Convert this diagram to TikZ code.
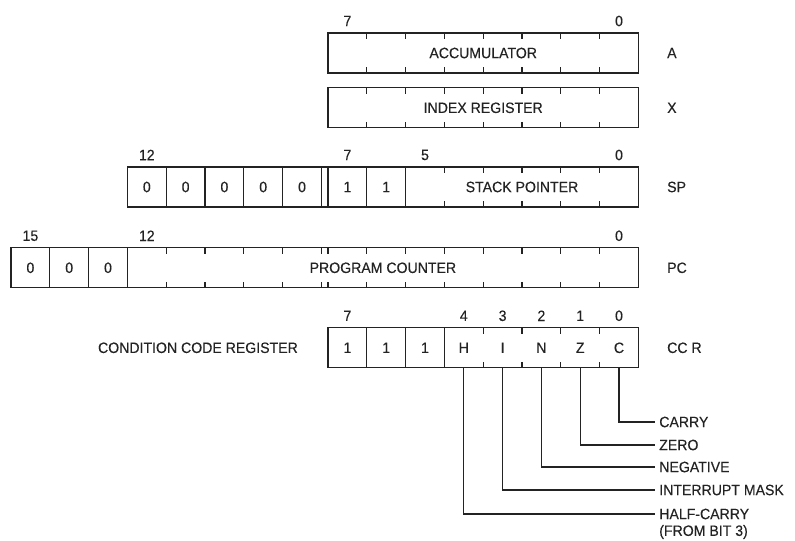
\documentclass[tikz,border=0pt]{standalone}
\usepackage{fontspec}
\setmainfont{Liberation Sans}[FakeStretch=0.94, FakeBold=0.3]
\usetikzlibrary{positioning}
\definecolor{linegray}{RGB}{35,35,35}
\definecolor{textgray}{RGB}{35,35,35}

\begin{document}
\begin{tikzpicture}[x=38.8pt, y=40pt,
    every node/.style={font=\fontsize{15}{18}\selectfont, text=textgray},
    reg/.style={draw=linegray, line width=1.2pt},
    bitnum/.style={inner sep=0pt},
    regname/.style={anchor=west, inner sep=0pt},
    cell/.style={minimum width=38.8pt, minimum height=40pt, inner sep=0pt},
    flag/.style={anchor=west, inner xsep=4pt, inner ysep=0pt}]
  \useasboundingbox (-8.454,0) rectangle (12.036,13.525);

  % Accumulator
  \draw[reg] (0,11.7) rectangle (8,12.7);
  \foreach \x in {1,...,7} {
    \draw[reg] (\x,11.7) -- ++(0,0.15);
    \draw[reg] (\x,12.7) -- ++(0,-0.15);
  }
  \node (acc) at (4,12.2) {ACCUMULATOR};
  \node[bitnum] (acc7) at (0.5,13.0) {7};
  \node[bitnum] (acc0) at (7.5,13.0) {0};
  \node[regname] (nameA) at (8.737,12.2) {A};

  % Index register
  \draw[reg] (0,10.33) rectangle (8,11.33);
  \foreach \x in {1,...,7} {
    \draw[reg] (\x,10.33) -- ++(0,0.15);
    \draw[reg] (\x,11.33) -- ++(0,-0.15);
  }
  \node (ix) at (4,10.83) {INDEX REGISTER};
  \node[regname] (nameX) at (8.737,10.83) {X};

  % Stack pointer
  \draw[reg] (-5.17,8.35) rectangle (8,9.35);
  \foreach \x in {-4.17,-3.17,-2.17,-1.17,-0.17,0,1,2}
    \draw[reg] (\x,8.35) -- (\x,9.35);
  \foreach \x in {3,...,7} {
    \draw[reg] (\x,8.35) -- ++(0,0.15);
    \draw[reg] (\x,9.35) -- ++(0,-0.15);
  }
  \foreach \i in {1,...,5}
    \node (spz\i) at (-5.67+\i,8.85) {0};
  \node (sp7) at (0.5,8.85) {1};
  \node (sp6) at (1.5,8.85) {1};
  \node (sptext) at (5,8.85) {STACK POINTER};
  \foreach \x/\l in {-4.67/12, 0.5/7, 2.5/5, 7.5/0}
    \node[bitnum] (spbit\l) at (\x,9.65) {\l};
  \node[regname] (nameSP) at (8.737,8.85) {SP};

  % Program counter
  \draw[reg] (-8.17,6.33) rectangle (8,7.33);
  \foreach \x in {-7.17,-6.17,-5.17}
    \draw[reg] (\x,6.33) -- (\x,7.33);
  \foreach \x in {-4.17,-3.17,-2.17,-1.17,-0.17,0,1,2,3,4,5,6,7} {
    \draw[reg] (\x,6.33) -- ++(0,0.15);
    \draw[reg] (\x,7.33) -- ++(0,-0.15);
  }
  \foreach \i in {1,2,3}
    \node (pcz\i) at (-8.67+\i,6.83) {0};
  \node (pctext) at (1.415,6.83) {PROGRAM COUNTER};
  \foreach \x/\l in {-7.67/15, -4.67/12, 7.5/0}
    \node[bitnum] (pcbit\l) at (\x,7.63) {\l};
  \node[regname] (namePC) at (8.737,6.83) {PC};

  % Condition code register
  \draw[reg] (0,4.33) rectangle (8,5.33);
  \foreach \x in {1,2,3}
    \draw[reg] (\x,4.33) -- (\x,5.33);
  \foreach \x in {4,...,7} {
    \draw[reg] (\x,4.33) -- ++(0,0.15);
    \draw[reg] (\x,5.33) -- ++(0,-0.15);
  }
  \foreach \i/\t in {0/1, 1/1, 2/1, 3/H, 4/I, 5/N, 6/Z, 7/C}
    \node[cell] (c\i) at (\i+0.5,4.83) {\t};
  \foreach \x/\l in {0.5/7, 3.5/4, 4.5/3, 5.5/2, 6.5/1, 7.5/0}
    \node[bitnum] (ccbit\l) at (\x,5.63) {\l};
  \node[anchor=east, inner sep=0pt] (ccrtext) at (-0.773,4.83) {CONDITION CODE REGISTER};
  \node[regname] (nameCCR) at (8.737,4.83) {CC R};

  % Flag bits
  \foreach \i/\n/\y/\t in {7/carry/2.975/CARRY, 6/zero/2.4/ZERO,
      5/neg/1.85/NEGATIVE, 4/intmask/1.275/INTERRUPT MASK,
      3/halfc/0.675/HALF-CARRY} {
    \node[flag] (\n) at (8.43,\y) {\t};
    \draw[reg] (c\i.south) |- (\n.west);
  }
  \node[flag] (frombit) at (8.43,0.225) {(FROM BIT 3)};
\end{tikzpicture}
\end{document}
